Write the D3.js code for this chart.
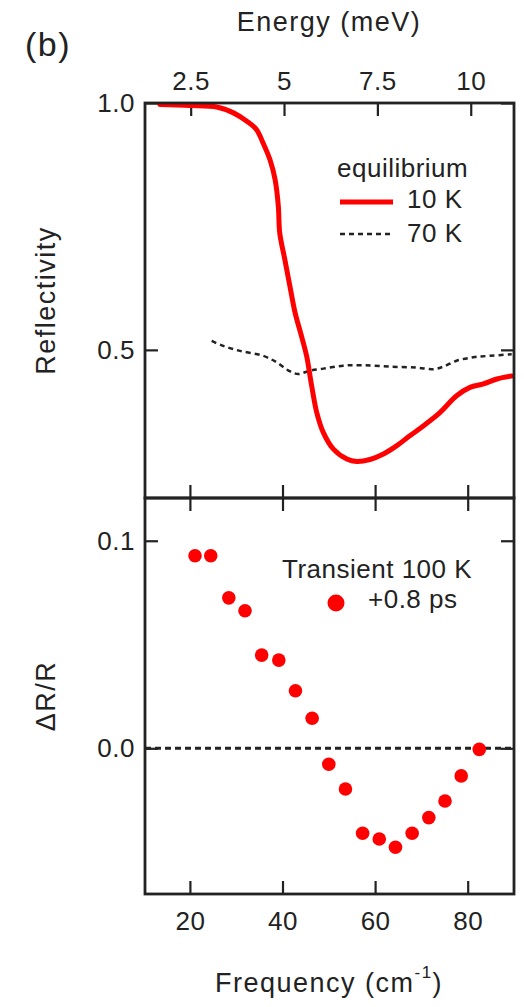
<!doctype html>
<html>

<head>
	<style>
		body { margin: 0; background: white; }
		text { font-family: "Liberation Sans", Arial, sans-serif; fill: #222; }
	</style>
</head>

<body>
	<div class="figure"></div>

	<script src="https://d3js.org/d3.v7.min.js"></script>
	<script>
		// equilibrium reflectivity, 10 K (frequency in cm^-1)
		let freq10K = [13.5, 20, 25.8, 29.4, 32.3, 34.4, 35.8, 37.3, 38.4, 39.1, 39.4, 40.5, 41.6, 42.7, 44.1, 45.2, 46.3, 47.4, 48.8, 51.0, 53.9, 56.0, 58.9, 61.8, 64.7, 67.5, 70.4, 74.0, 77.6, 80.5, 83.4, 86.3, 89.5];
		let refl10K = [0.997, 0.995, 0.992, 0.980, 0.963, 0.946, 0.919, 0.885, 0.845, 0.791, 0.737, 0.683, 0.629, 0.576, 0.528, 0.488, 0.427, 0.373, 0.333, 0.299, 0.279, 0.274, 0.278, 0.289, 0.306, 0.326, 0.346, 0.373, 0.407, 0.424, 0.431, 0.441, 0.447];

		// equilibrium reflectivity, 70 K
		let freq70K = [24.7, 27.2, 30.8, 35.8, 38.7, 41.3, 43.4, 45.9, 48.8, 53.1, 57.4, 63.2, 69.0, 72.6, 74.7, 77.6, 81.2, 84.8, 89.5];
		let refl70K = [0.518, 0.508, 0.498, 0.488, 0.475, 0.458, 0.451, 0.458, 0.462, 0.468, 0.469, 0.466, 0.464, 0.461, 0.466, 0.478, 0.485, 0.488, 0.491];

		// transient dR/R, 100 K, +0.8 ps
		let freqTransient = [21.1, 24.5, 28.4, 31.9, 35.5, 39.2, 42.8, 46.4, 50.0, 53.6, 57.3, 60.9, 64.4, 68.0, 71.6, 75.1, 78.6, 82.5];
		let dRR = [0.0928, 0.0928, 0.0725, 0.0663, 0.0449, 0.0425, 0.0277, 0.0145, -0.0077, -0.0196, -0.0409, -0.0437, -0.0477, -0.0409, -0.0334, -0.0254, -0.0133, -0.0005];

		let freqTicks = [20, 40, 60, 80];
		let energyTicks = [2.5, 5, 7.5, 10];
		let reflTicks = [1.0, 0.5];
		let dRRTicks = [0.1, 0.0];

		let CM_PER_MEV = 8.0655;
		let TICK = 13;

		let svg = d3.select(".figure")
			.append("svg")
			.attr("width", 524)
			.attr("height", 1007);

		let pLeft = 145, pRight = 514, pTop = 103, pMid = 498, pBottom = 894;

		let x = d3.scaleLinear().domain([10.3, 90]).range([pLeft, pRight]);
		let xE = d3.scaleLinear().domain(x.domain().map(f => f / CM_PER_MEV)).range(x.range());
		let yTop = d3.scaleLinear().domain([0.2, 1.0]).range([pMid, pTop]);
		let yBot = d3.scaleLinear().domain([-0.0702, 0.1206]).range([pBottom, pMid]);

		function styleAxis(g, size) {
			g.select(".domain").remove();
			g.selectAll(".tick line").attr("stroke", "#222").attr("stroke-width", 2.2);
			g.selectAll(".tick text")
				.style("font-size", size + "px")
				.style("letter-spacing", "0.5px")
				.attr("fill", "#222");
		}

		// top panel axes
		svg.append("g").attr("transform", `translate(0,${pTop})`)
			.call(d3.axisTop(xE).tickValues(energyTicks).tickSize(-TICK).tickPadding(13).tickFormat(d3.format("")))
			.call(g => styleAxis(g, 26));
		svg.append("g").attr("transform", `translate(0,${pMid})`)
			.call(d3.axisBottom(x).tickValues(freqTicks).tickSize(-TICK).tickFormat(""))
			.call(g => styleAxis(g, 26));
		svg.append("g").attr("transform", `translate(${pLeft},0)`)
			.call(d3.axisLeft(yTop).tickValues(reflTicks).tickSize(-TICK).tickPadding(10).tickFormat(d3.format(".1f")))
			.call(g => styleAxis(g, 26));
		svg.append("g").attr("transform", `translate(${pRight},0)`)
			.call(d3.axisRight(yTop).tickValues(reflTicks).tickSize(-TICK).tickFormat(""))
			.call(g => styleAxis(g, 26));

		// bottom panel axes
		svg.append("g").attr("transform", `translate(0,${pMid})`)
			.call(d3.axisTop(x).tickValues(freqTicks).tickSize(-TICK).tickFormat(""))
			.call(g => styleAxis(g, 26));
		svg.append("g").attr("transform", `translate(0,${pBottom})`)
			.call(d3.axisBottom(x).tickValues(freqTicks).tickSize(-TICK).tickPadding(18).tickFormat(d3.format("")))
			.call(g => styleAxis(g, 26));
		svg.append("g").attr("transform", `translate(${pLeft},0)`)
			.call(d3.axisLeft(yBot).tickValues(dRRTicks).tickSize(-TICK).tickPadding(10).tickFormat(d3.format(".1f")))
			.call(g => styleAxis(g, 26));
		svg.append("g").attr("transform", `translate(${pRight},0)`)
			.call(d3.axisRight(yBot).tickValues(dRRTicks).tickSize(-TICK).tickFormat(""))
			.call(g => styleAxis(g, 26));

		// zero line
		svg.append("line")
			.attr("x1", pLeft).attr("x2", pRight)
			.attr("y1", yBot(0)).attr("y2", yBot(0))
			.attr("stroke", "#222").attr("stroke-width", 3)
			.attr("stroke-dasharray", "6,4");

		// curves
		let line = d3.line()
			.x(d => x(d[0]))
			.y(d => yTop(d[1]))
			.curve(d3.curveCatmullRom);

		svg.append("path")
			.datum(d3.zip(freq70K, refl70K))
			.attr("d", line)
			.attr("fill", "none")
			.attr("stroke", "#222").attr("stroke-width", 2.5)
			.attr("stroke-dasharray", "5,4");

		svg.append("path")
			.datum(d3.zip(freq10K, refl10K))
			.attr("d", line)
			.attr("fill", "none")
			.attr("stroke", "#ff0000").attr("stroke-width", 5)
			.attr("stroke-linecap", "round");

		svg.selectAll("circle.pt")
			.data(d3.zip(freqTransient, dRR))
			.join("circle")
			.attr("class", "pt")
			.attr("cx", d => x(d[0]))
			.attr("cy", d => yBot(d[1]))
			.attr("r", 6.8)
			.attr("fill", "#ff0000");

		// frames
		[[pTop, pMid], [pMid, pBottom]].forEach(p => {
			svg.append("rect")
				.attr("x", pLeft).attr("y", p[0])
				.attr("width", pRight - pLeft).attr("height", p[1] - p[0])
				.attr("fill", "none")
				.attr("stroke", "#222").attr("stroke-width", 2.8);
		});

		// titles
		function label(txt, px, py, size, rot) {
			return svg.append("text")
				.attr("transform", `translate(${px},${py})` + (rot ? ` rotate(${rot})` : ""))
				.attr("text-anchor", "middle")
				.style("font-size", size + "px")
				.style("letter-spacing", "1.5px")
				.text(txt);
		}

		label("(b)", 48, 56, 34);
		label("Energy (meV)", 329, 31, 27);
		label("Reflectivity", 55, yTop(0.6), 27, -90);
		label("ΔR/R", 55, (pMid + pBottom) / 2, 27, -90);

		let freqTitle = label("Frequency (cm", 329, 992, 27);
		freqTitle.append("tspan").attr("dy", -14).style("font-size", "17px").text("-1");
		freqTitle.append("tspan").attr("dy", 14).text(")");

		// legends
		let leg = svg.append("g").style("font-size", "26px").style("letter-spacing", "0.5px");
		leg.append("text").attr("x", 337).attr("y", 177).text("equilibrium");
		leg.append("line").attr("x1", 340).attr("x2", 393).attr("y1", 202).attr("y2", 202)
			.attr("stroke", "#ff0000").attr("stroke-width", 5);
		leg.append("text").attr("x", 407).attr("y", 208).text("10 K");
		leg.append("line").attr("x1", 340).attr("x2", 392).attr("y1", 234).attr("y2", 234)
			.attr("stroke", "#222").attr("stroke-width", 2.5).attr("stroke-dasharray", "5,4");
		leg.append("text").attr("x", 407).attr("y", 242).text("70 K");

		leg.append("text").attr("x", 282).attr("y", 578).text("Transient 100 K");
		leg.append("circle").attr("cx", 336).attr("cy", 603).attr("r", 8.5).attr("fill", "#ff0000");
		leg.append("text").attr("x", 368).attr("y", 608).text("+0.8 ps");
	</script>

</body>

</html>
